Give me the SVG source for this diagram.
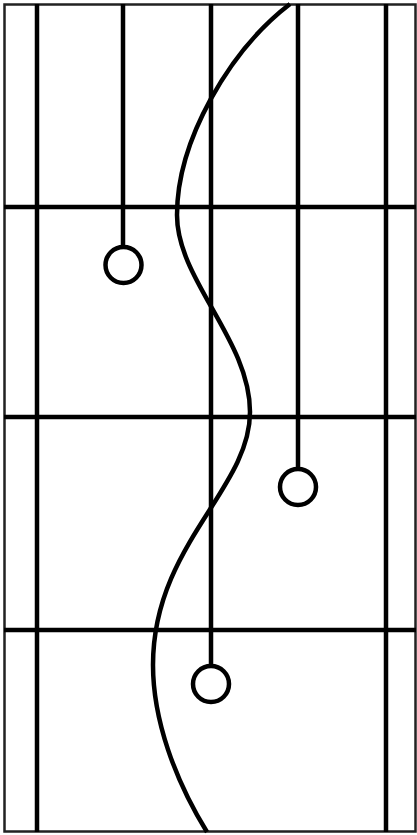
<svg xmlns="http://www.w3.org/2000/svg" width="417" height="835" viewBox="0 0 417 835">
<style>
.ln{stroke:#000;stroke-width:4.5;fill:none}
.ring{stroke:#000;stroke-width:4.5;fill:#fff}
</style>
<rect x="0" y="0" width="417" height="835" fill="#fff"/>
<g id="frame">
<rect x="4.5" y="4.5" width="411" height="827" fill="none" stroke="#222" stroke-width="2.5"/>
</g>
<g id="grid">
<line class="ln" x1="37" y1="4" x2="37" y2="832"/>
<line class="ln" x1="386" y1="4" x2="386" y2="832"/>
<line class="ln" x1="4" y1="207" x2="416" y2="207"/>
<line class="ln" x1="4" y1="417" x2="416" y2="417"/>
<line class="ln" x1="4" y1="630" x2="416" y2="630"/>
</g>
<g id="pendants">
<line class="ln" x1="123" y1="4" x2="123" y2="247"/>
<line class="ln" x1="211" y1="4" x2="211" y2="666"/>
<line class="ln" x1="298" y1="4" x2="298" y2="470"/>
<circle class="ring" cx="123.5" cy="265" r="18"/>
<circle class="ring" cx="298" cy="487" r="18"/>
<circle class="ring" cx="211" cy="684" r="18"/>
</g>
<g id="curve">
<path class="ln" d="M290,4 C230,50 177,140 177,215 C177,280 250,340 250,412 C250,490 153,545 153,665 C153,720 175,780 207,832"/>
</g>
</svg>
